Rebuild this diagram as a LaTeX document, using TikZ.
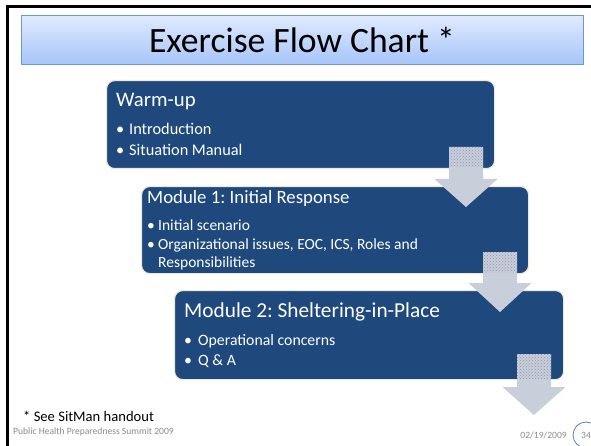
\documentclass[tikz,border=0pt]{standalone}
\usepackage{fontspec}
\setmainfont{Carlito}
\usepackage{xcolor}
\usepackage{tikz}
\usetikzlibrary{patterns}

\definecolor{modblue}{HTML}{1F497D}
\definecolor{modedge}{HTML}{EDE9D6}
\definecolor{titletop}{HTML}{E0EAFE}
\definecolor{titlebot}{HTML}{A6C5F9}
\definecolor{titleedge}{HTML}{6A98D6}
\definecolor{arrowfill}{HTML}{C9CEDB}
\definecolor{arrowdots}{HTML}{8D95AC}
\definecolor{footgray}{HTML}{8C8C8C}
\definecolor{pageblue}{HTML}{4F81BD}

\newcommand{\bul}[1]{\makebox[#1][l]{\textbullet}}
\frenchspacing

\begin{document}
\begin{tikzpicture}[x=1pt, y=-1pt,
  modbox/.style={draw=modedge, line width=1.2pt, fill=modblue, rounded corners=8pt, anchor=north west},
  modhead/.style={anchor=base west, inner sep=0pt, text=white},
  moditem/.style={anchor=base west, inner sep=0pt, text=white},
  flowarrow/.style={fill=arrowfill},
  arrowpart/.style={pattern=crosshatch dots, pattern color=arrowdots},
  footer/.style={inner sep=0pt, text=footgray, font=\fontsize{9.6}{11}\selectfont}]

 \useasboundingbox (0,0) rectangle (591,446);
 \fill[white] (0,0) rectangle (591,446);

 % slide frame and title bar
 \draw[line width=3pt] (7.5,470) -- (7.5,6.3) -- (620,6.3);
 \node[draw=titleedge, line width=0.8pt, top color=titletop, bottom color=titlebot,
   anchor=north west, minimum width=562pt, minimum height=49pt] (titlebar) at (21,15) {};
 \node[anchor=base, inner sep=0pt, font=\fontsize{35.6}{40}\selectfont] (title) at (302,53) {Exercise Flow Chart *};

 % modules
 \node[modbox, minimum width=388pt, minimum height=88pt] (warmup) at (106,80) {};
 \node[modhead, font=\fontsize{20.7}{24}\selectfont] (warmuphead) at (116,107) {Warm-up};
 \node[moditem, font=\fontsize{16.3}{21}\selectfont] (warmupa) at (116,135) {\bul{13pt}Introduction};
 \node[moditem, font=\fontsize{16.3}{21}\selectfont] (warmupb) at (116,156) {\bul{13pt}Situation Manual};

 \node[modbox, minimum width=387pt, minimum height=87pt] (modone) at (141,186) {};
 \node[modhead, font=\fontsize{18.8}{22}\selectfont] (modonehead) at (147,204) {Module 1: Initial Response};
 \node[moditem, font=\fontsize{15.5}{18}\selectfont] (modonea) at (147,230) {\bul{11pt}Initial scenario};
 \node[moditem, font=\fontsize{15.5}{18}\selectfont] (modoneb) at (147,250) {\bul{11pt}Organizational issues, EOC, ICS, Roles and};
 \node[moditem, font=\fontsize{15.5}{18}\selectfont] (modonec) at (158,267) {Responsibilities};

 \node[modbox, minimum width=389pt, minimum height=89pt] (modtwo) at (174,290) {};
 \node[modhead, font=\fontsize{21.3}{25}\selectfont] (modtwohead) at (184,317) {Module 2: Sheltering-in-Place};
 \node[moditem, font=\fontsize{15.8}{20}\selectfont] (modtwoa) at (184,345) {\bul{14pt}Operational concerns};
 \node[moditem, font=\fontsize{15.8}{20}\selectfont] (modtwob) at (184,365) {\bul{14pt}Q \& A};

 % block arrows
 \fill[flowarrow] (449,147) -- (483,147) -- (483,179) -- (497.5,179) -- (466,207) -- (434.5,179) -- (449,179) -- cycle;
 \fill[arrowpart] (449,147) rectangle (483,167);
 \fill[flowarrow] (483,252) -- (517,252) -- (517,283) -- (531.5,283) -- (500,312) -- (468.5,283) -- (483,283) -- cycle;
 \fill[arrowpart] (483,252) rectangle (517,272);
 \fill[flowarrow] (517,354) -- (551,354) -- (551,387) -- (565.5,387) -- (534,415) -- (502.5,387) -- (517,387) -- cycle;
 \fill[arrowpart] (517,354) rectangle (551,378);

 % footer
 \node[anchor=base west, inner sep=0pt, font=\fontsize{14.6}{17}\selectfont] (note) at (23,421) {* See SitMan handout};
 \node[footer, anchor=base west] (event) at (13,434) {Public Health Preparedness Summit 2009};
 \node[footer, anchor=base east] (date) at (567,438) {02/19/2009};
 \node[footer, anchor=base] (pagenum) at (586,438) {34};
 \draw[pageblue, line width=0.8pt] (586,435) circle [radius=13pt];
\end{tikzpicture}
\end{document}
